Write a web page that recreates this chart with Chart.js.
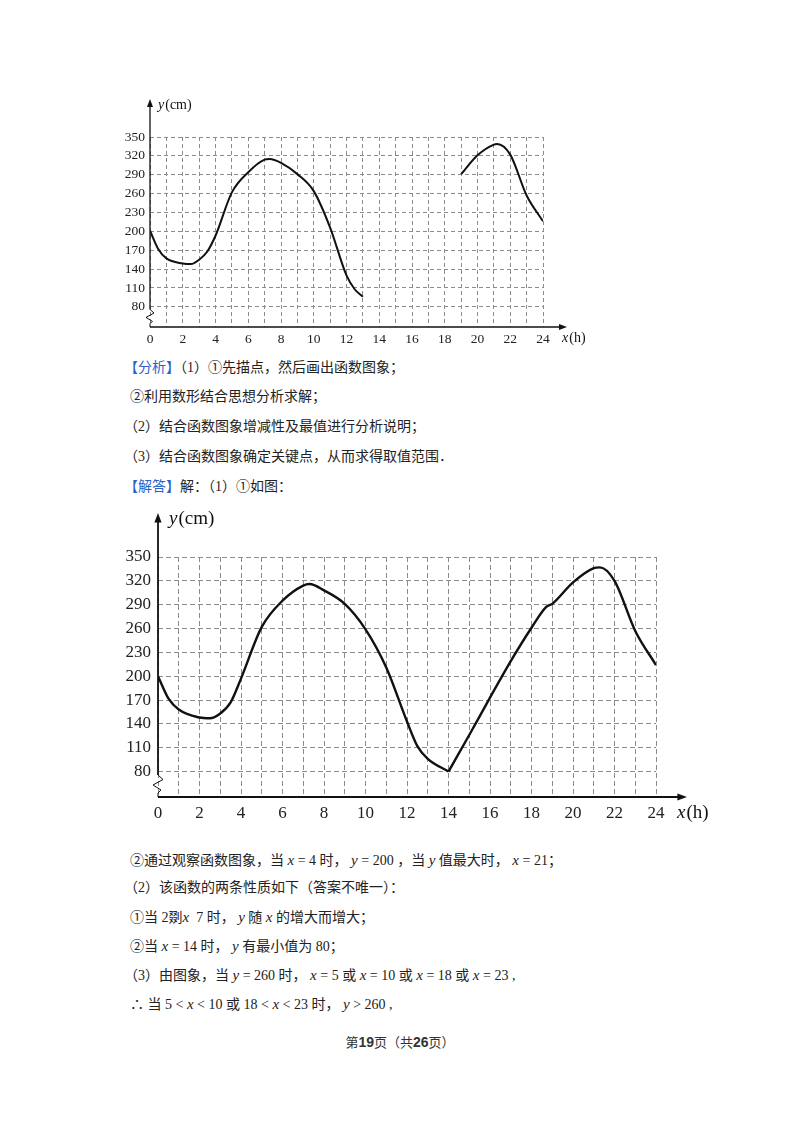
<!DOCTYPE html>
<html>
<head>
<meta charset="utf-8">
<script src="https://cdn.jsdelivr.net/npm/chart.js@4"></script>
<style>
  body { margin: 0; background: #fff; width: 800px; height: 1132px; position: relative; overflow: hidden; }
  canvas { position: absolute; }
  .ln { position: absolute; left: 130px; font-family: "Liberation Serif", "Noto Sans CJK SC", serif; font-size: 14px; color: #222; white-space: nowrap; line-height: 18px; }
  .ln.pb { left: 124px; }
  .ln i { font-family: "Liberation Serif", serif; font-size: 15px; }
  .tag { color: #2a62c9; }
  .foot { position: absolute; left: 0; width: 800px; top: 1032px; text-align: center; font-family: "Noto Sans CJK SC", sans-serif; font-size: 13px; color: #333; }
  .foot b { font-family: "Liberation Sans", sans-serif; font-size: 14px; }
</style>
</head>
<body>
<canvas id="chartTop" width="500" height="260" style="left:100px;top:90px"></canvas>

<div class="ln pb" style="top:359px"><span class="tag">【分析】</span>（1）①先描点，然后画出函数图象；</div>
<div class="ln" style="top:388px">②利用数形结合思想分析求解；</div>
<div class="ln pb" style="top:418px">（2）结合函数图象增减性及最值进行分析说明；</div>
<div class="ln pb" style="top:448px">（3）结合函数图象确定关键点，从而求得取值范围．</div>
<div class="ln pb" style="top:478px"><span class="tag">【解答】</span>解：（1）①如图：</div>

<canvas id="chartBottom" width="640" height="330" style="left:100px;top:500px"></canvas>

<div class="ln" style="top:851px">②通过观察函数图象，当 <i>x</i> = 4 时， <i>y</i> = 200 ，当 <i>y</i> 值最大时， <i>x</i> = 21；</div>
<div class="ln pb" style="top:879px">（2）该函数的两条性质如下（答案不唯一）：</div>
<div class="ln" style="top:908px">①当 2剟<i>x</i>&nbsp; 7 时， <i>y</i> 随 <i>x</i> 的增大而增大；</div>
<div class="ln" style="top:937px">②当 <i>x</i> = 14 时， <i>y</i> 有最小值为 80；</div>
<div class="ln pb" style="top:966px">（3）由图象，当 <i>y</i> = 260 时， <i>x</i> = 5 或 <i>x</i> = 10 或 <i>x</i> = 18 或 <i>x</i> = 23 ,</div>
<div class="ln" style="top:995px">∴ 当 5 &lt; <i>x</i> &lt; 10 或 18 &lt; <i>x</i> &lt; 23 时， <i>y</i> &gt; 260 ,</div>

<div class="foot">第<b>19</b>页（共<b>26</b>页）</div>

<script>
// 刻度
const xTicks = [0, 1, 2, 3, 4, 5, 6, 7, 8, 9, 10, 11, 12, 13, 14, 15, 16, 17, 18, 19, 20, 21, 22, 23, 24];
const yTicks = [80, 110, 140, 170, 200, 230, 260, 290, 320, 350];
const yMin = 48;

// 第一幅图（中间缺一段）
const topHoursA = [0, 0.5, 1, 2, 2.5, 3, 3.5, 4, 5, 6, 7, 7.3, 8, 9, 10, 11, 12, 12.5, 13];
const topHeightsA = [201, 172, 157, 149, 148, 155, 168, 193, 262, 294, 314, 315, 309, 291, 264, 206, 130, 108, 96];
const topHoursB = [19, 20, 21, 21.2, 22, 23, 24];
const topHeightsB = [291, 321, 338, 339, 322, 257, 216];

// 第二幅图（完整）
const hours = [0, 0.5, 1, 2, 2.5, 3, 3.5, 4, 5, 6, 7, 7.3, 8, 9, 10, 11, 12, 12.5, 13, 14, 15, 16, 17, 18, 18.7, 19, 20, 21, 21.3, 22, 23, 24];
const heights = [200, 172, 158, 148, 147, 153, 167, 197, 262, 295, 314, 316, 308, 291, 259, 211, 143, 112, 96, 80, 126, 173, 219, 261, 287, 291, 318, 336, 337, 320, 257, 214];

const pts = (xs, ys) => xs.map((x, i) => ({ x: x, y: ys[i] }));

// 坐标轴、箭头、折断号、轴名
function axisPlugin(o) {
    return {
        id: 'axes',
        afterDraw(chart) {
            const ctx = chart.ctx;
            const a = chart.chartArea;
            const x0 = a.left, y0 = a.bottom;
            ctx.save();
            ctx.strokeStyle = '#111';
            ctx.fillStyle = '#111';
            ctx.lineWidth = o.axisW;
            // x 轴
            const xe = a.right + o.xExt;
            ctx.beginPath();
            ctx.moveTo(x0, y0);
            ctx.lineTo(xe - 4, y0);
            ctx.stroke();
            ctx.beginPath();
            ctx.moveTo(xe, y0);
            ctx.lineTo(xe - o.ah * 1.6, y0 - o.ah * 0.6);
            ctx.lineTo(xe - o.ah * 1.6, y0 + o.ah * 0.6);
            ctx.closePath();
            ctx.fill();
            // y 轴
            const ye = a.top - o.yExt;
            const zTop = y0 - o.zz * 2.2, zBot = y0 - o.zz * 0.4;
            ctx.beginPath();
            ctx.moveTo(x0, zTop);
            ctx.lineTo(x0, ye + 4);
            ctx.stroke();
            ctx.beginPath();
            ctx.moveTo(x0, ye);
            ctx.lineTo(x0 - o.ah * 0.6, ye + o.ah * 1.6);
            ctx.lineTo(x0 + o.ah * 0.6, ye + o.ah * 1.6);
            ctx.closePath();
            ctx.fill();
            // 折断号
            ctx.lineWidth = 1;
            ctx.beginPath();
            ctx.moveTo(x0, zTop);
            ctx.lineTo(x0 + o.zz * 0.5, zTop + o.zz * 0.45);
            ctx.lineTo(x0 - o.zz * 0.5, zTop + o.zz * 1.0);
            ctx.lineTo(x0 + o.zz * 0.3, zTop + o.zz * 1.5);
            ctx.lineTo(x0, zBot);
            ctx.lineTo(x0, y0);
            ctx.stroke();
            // 轴名
            ctx.textBaseline = 'middle';
            ctx.font = 'italic ' + o.tf + 'px "Liberation Serif"';
            let w = ctx.measureText('y').width;
            ctx.fillText('y', x0 + o.yLabDx, ye + o.yLabDy);
            ctx.font = o.tf + 'px "Liberation Serif"';
            ctx.fillText('(cm)', x0 + o.yLabDx + w + 1, ye + o.yLabDy);
            ctx.font = 'italic ' + o.tf + 'px "Liberation Serif"';
            w = ctx.measureText('x').width;
            ctx.fillText('x', xe + o.xLabDx, y0 + o.xLabDy);
            ctx.font = o.tf + 'px "Liberation Serif"';
            ctx.fillText('(h)', xe + o.xLabDx + w + 1, y0 + o.xLabDy);
            ctx.restore();
        }
    };
}

function makeChart(id, segments, o) {
    const tickFont = { family: 'Liberation Serif', size: o.fs };
    return new Chart(document.getElementById(id), {
        type: 'line',
        data: {
            datasets: segments.map(s => ({
                data: s,
                borderColor: '#111',
                borderWidth: o.lw,
                pointRadius: 0,
                fill: false,
                cubicInterpolationMode: 'monotone'
            }))
        },
        options: {
            responsive: false,
            animation: false,
            layout: { padding: { left: 0, top: o.top, right: o.right, bottom: 0 } },
            plugins: { legend: { display: false }, tooltip: { enabled: false } },
            scales: {
                x: {
                    type: 'linear',
                    min: 0,
                    max: 24,
                    afterBuildTicks: s => { s.ticks = xTicks.map(v => ({ value: v })); },
                    afterFit: s => { s.height = o.xh; },
                    ticks: {
                        autoSkip: false,
                        maxRotation: 0,
                        padding: o.xPad,
                        color: '#222',
                        font: tickFont,
                        callback: v => (v % 2 === 0 ? String(v) : '')
                    },
                    grid: { color: '#8c8c8c', lineWidth: 1, drawTicks: false },
                    border: { display: false, dash: o.dash }
                },
                y: {
                    min: yMin,
                    max: 350,
                    afterBuildTicks: s => { s.ticks = yTicks.map(v => ({ value: v })); },
                    afterFit: s => { s.width = o.yw; },
                    ticks: { padding: o.yPad, color: '#222', font: tickFont },
                    grid: { color: '#8c8c8c', lineWidth: 1, drawTicks: false },
                    border: { display: false, dash: o.dash }
                }
            }
        },
        plugins: [axisPlugin(o)]
    });
}

makeChart('chartTop', [pts(topHoursA, topHeightsA), pts(topHoursB, topHeightsB)], {
    top: 47, right: 57, xh: 23, yw: 50, fs: 13.5, xPad: 4, yPad: 5, lw: 2,
    dash: [4, 3], axisW: 1.3, xExt: 24, yExt: 38, ah: 5, zz: 8,
    tf: 14, yLabDx: 8, yLabDy: 6, xLabDx: -5, xLabDy: 11
});

const splitAt = 14;
const segA = pts(hours, heights).filter(p => p.x <= splitAt);
const segB = pts(hours, heights).filter(p => p.x >= splitAt);

makeChart('chartBottom', [segA, segB], {
    top: 57, right: 84, xh: 33, yw: 58, fs: 17, xPad: 6, yPad: 7, lw: 2.4,
    dash: [5, 3], axisW: 1.8, xExt: 31, yExt: 44, ah: 6, zz: 10,
    tf: 19, yLabDx: 11, yLabDy: 6, xLabDx: -10, xLabDy: 16
});
</script>
</body>
</html>
